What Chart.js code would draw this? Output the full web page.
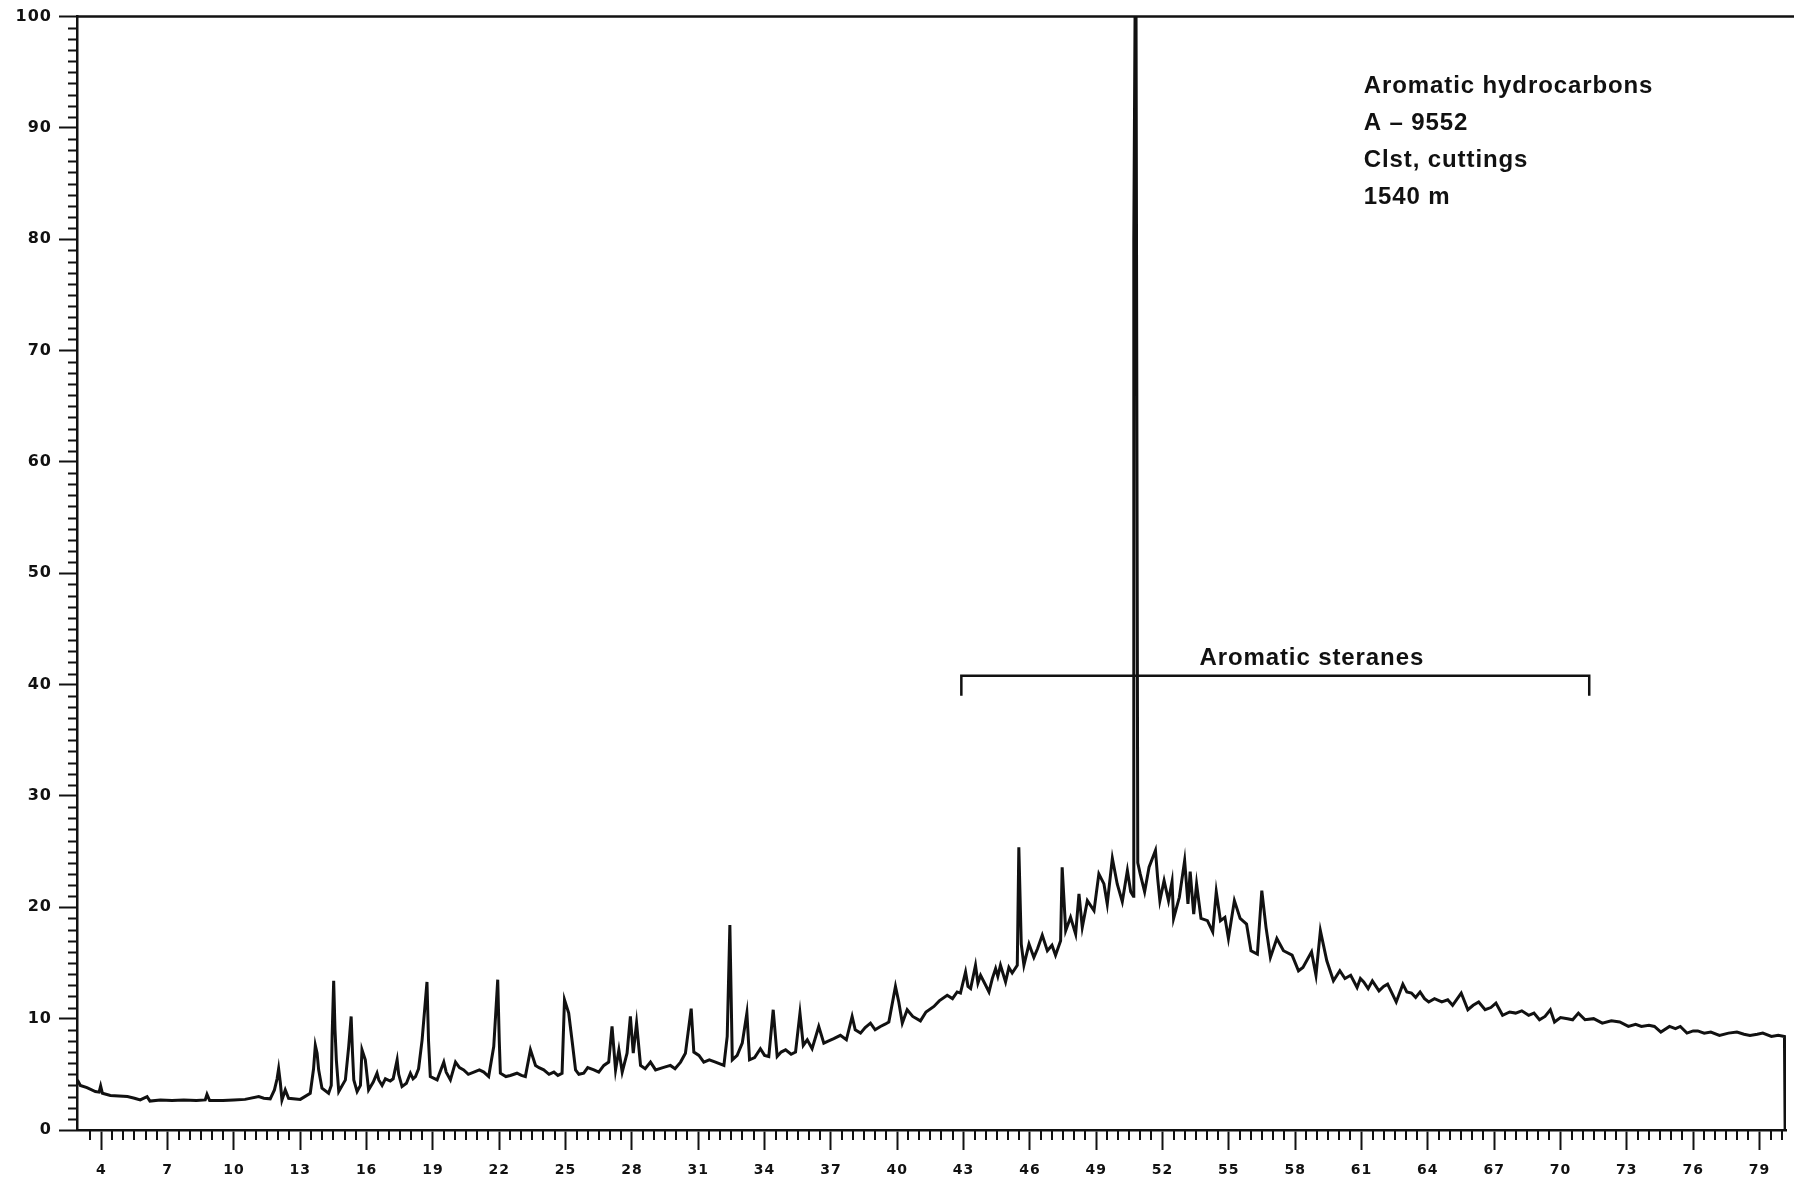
<!DOCTYPE html>
<html>
<head>
<meta charset="utf-8">
<title>Aromatic hydrocarbons A-9552</title>
<script src="https://cdn.jsdelivr.net/npm/chart.js@4/dist/chart.umd.min.js"></script>
<style>
  html, body { margin: 0; padding: 0; background: #fff; }
  #wrap { width: 1803px; height: 1190px; }
</style>
</head>
<body>
<div id="wrap"><canvas id="chrom" width="1803" height="1190"></canvas></div>
<script>
// Retention scale (scan number / time units) of the recorded trace
const retention = [
  2.92, 3.05, 3.35, 3.73, 3.9, 3.97, 4.05, 4.41, 5.18, 5.5, 5.76, 6.07, 6.2, 6.67, 7.2, 7.73, 8.3, 8.7, 8.78, 8.9,
  9.5, 9.99, 10.5, 11.12, 11.35, 11.64,
  11.83, 11.95, 12.02, 12.1, 12.17, 12.32, 12.47, 13.0, 13.45, 13.6, 13.68, 13.76, 13.83, 13.98, 14.28, 14.4, 14.44,
  14.51, 14.57, 14.63, 14.74, 15.04, 15.19, 15.3, 15.36, 15.42, 15.57, 15.72, 15.79, 15.94, 16.09, 16.3, 16.47, 16.55,
  16.7, 16.85, 17.07, 17.2, 17.38, 17.45, 17.6, 17.8, 17.98, 18.1, 18.21, 18.35, 18.51, 18.73, 18.8, 18.88, 19.19,
  19.49, 19.6, 19.79, 20.02, 20.2, 20.39, 20.6, 20.85, 21.1, 21.3, 21.52,
  21.75, 21.93, 22.0, 22.05, 22.3, 22.5, 22.8, 23.0, 23.18, 23.41, 23.64, 23.8, 24.01, 24.25, 24.47, 24.65, 24.84,
  24.95, 25.14, 25.3, 25.45, 25.6, 25.82, 26.0, 26.28, 26.5, 26.73, 26.95, 27.1, 27.26, 27.41, 27.56, 27.78, 27.93,
  28.06, 28.21, 28.39, 28.6, 28.84, 29.07, 29.4, 29.74, 29.95, 30.2, 30.42, 30.68, 30.8, 31.03, 31.25, 31.5, 31.78,
  32.16, 32.31, 32.43, 32.54,
  32.76, 32.99, 33.2, 33.32, 33.55, 33.81, 34.0, 34.19, 34.39, 34.57, 34.75, 34.95, 35.2, 35.4, 35.6, 35.75, 35.93,
  36.15, 36.45, 36.68, 36.9, 37.13, 37.43, 37.7, 37.96, 38.1, 38.34, 38.55, 38.79, 39.0, 39.24, 39.45, 39.62, 39.92,
  40.07, 40.23, 40.45, 40.7, 41.05, 41.3, 41.66, 41.9, 42.26, 42.5, 42.71, 42.86, 43.09, 43.2, 43.32, 43.54, 43.65,
  43.77, 44.0, 44.15, 44.3, 44.45, 44.55, 44.67, 44.9, 45.05, 45.2, 45.43, 45.5, 45.61, 45.73, 45.96, 46.18, 46.35,
  46.56, 46.79, 47.0, 47.16, 47.39, 47.46, 47.62, 47.84, 48.07, 48.22, 48.37, 48.6, 48.9, 49.12, 49.35, 49.5, 49.73,
  49.95, 50.18, 50.41, 50.56, 50.68,
  50.7, 50.79, 50.88,
  50.99, 51.19, 51.39, 51.68, 51.78, 51.88, 52.07, 52.27, 52.43, 52.5, 52.76, 53.0, 53.15, 53.25, 53.41, 53.54, 53.74,
  54.03, 54.27, 54.43, 54.62, 54.82, 54.98, 55.25, 55.51, 55.8, 56.0, 56.29, 56.49, 56.68, 56.88, 57.17, 57.47, 57.86,
  58.15, 58.35, 58.74, 58.94, 59.14, 59.43, 59.73, 60.02, 60.25, 60.51, 60.8, 60.95, 61.1, 61.3, 61.49, 61.79, 62.0,
  62.18, 62.4, 62.57, 62.87, 63.05, 63.26, 63.45, 63.65, 63.85, 64.04, 64.3, 64.63, 64.9, 65.12, 65.51, 65.81, 66.05,
  66.3, 66.59, 66.85, 67.08, 67.38, 67.7, 67.97, 68.25, 68.56, 68.8, 69.05, 69.3, 69.54, 69.73, 70.0, 70.32, 70.55,
  70.81, 71.11, 71.5, 71.89, 72.3, 72.68, 73.07, 73.4, 73.66, 74.0, 74.25, 74.54, 74.93, 75.2, 75.42, 75.72, 76.0,
  76.21, 76.5, 76.8, 77.19, 77.6, 77.98, 78.3, 78.57, 78.9, 79.15, 79.54, 79.85, 80.13, 80.16
];

// Detector response, % of full scale
const response = [
  4.5, 4.0, 3.8, 3.45, 3.4, 3.95, 3.3, 3.1, 3.0, 2.85, 2.7, 3.0, 2.6, 2.7, 2.65, 2.7, 2.65, 2.7, 3.2, 2.65,
  2.65, 2.7, 2.75, 3.0, 2.85, 2.8,
  3.6, 4.6, 5.5, 4.2, 2.7, 3.6, 2.85, 2.75, 3.3, 5.5, 7.6, 6.9, 5.4, 3.75, 3.3, 4.0, 8.5,
  13.4, 9.0, 6.3, 3.45, 4.5, 7.5, 10.2, 7.0, 4.5, 3.45, 4.0, 7.2, 6.3, 3.6, 4.3, 5.1, 4.5,
  4.0, 4.6, 4.4, 4.6, 6.3, 5.0, 3.9, 4.2, 5.1, 4.6, 4.8, 5.5, 8.1, 13.3, 8.0, 4.8, 4.5,
  6.1, 5.2, 4.5, 6.1, 5.6, 5.4, 5.0, 5.2, 5.4, 5.2, 4.8,
  7.5, 13.5, 8.0, 5.1, 4.8, 4.9, 5.1, 4.9, 4.8, 7.2, 5.8, 5.6, 5.4, 5.0, 5.2, 4.9, 5.1,
  11.7, 10.5, 7.9, 5.4, 5.0, 5.1, 5.6, 5.4, 5.2, 5.8, 6.1, 9.3, 5.4, 7.2, 5.2, 6.9, 10.2,
  6.9, 9.6, 5.8, 5.5, 6.1, 5.4, 5.6, 5.8, 5.5, 6.1, 6.9, 10.9, 7.0, 6.7, 6.1, 6.3, 6.1,
  5.8, 8.4, 18.4, 6.3,
  6.7, 7.8, 10.5, 6.3, 6.5, 7.3, 6.7, 6.6, 10.8, 6.6, 7.0, 7.2, 6.8, 7.0, 10.5, 7.6, 8.1,
  7.3, 9.3, 7.8, 8.0, 8.2, 8.5, 8.1, 10.2, 9.0, 8.7, 9.2, 9.6, 9.0, 9.3, 9.5, 9.7, 12.9,
  11.5, 9.6, 10.8, 10.2, 9.8, 10.6, 11.1, 11.6, 12.1, 11.8, 12.4, 12.3, 14.2, 12.9, 12.7, 14.8, 13.2,
  13.9, 13.0, 12.4, 13.6, 14.5, 13.8, 14.8, 13.3, 14.6, 14.1, 14.8, 25.4, 16.7, 14.8, 16.7, 15.5, 16.3,
  17.5, 16.1, 16.6, 15.7, 17.0, 23.6, 17.9, 19.1, 17.6, 21.2, 18.2, 20.6, 19.7, 23.0, 22.1, 20.3, 24.4,
  22.1, 20.5, 23.3, 21.4, 21.0,
  80.0, 112.0, 24.0,
  23.0, 21.4, 23.6, 25.1, 22.6, 20.6, 22.4, 20.6, 22.3, 19.0, 20.9, 24.2, 20.3, 23.2, 19.4, 22.1, 19.0,
  18.8, 17.8, 21.4, 18.8, 19.1, 17.2, 20.6, 19.0, 18.5, 16.1, 15.8, 21.5, 18.2, 15.5, 17.2, 16.1, 15.7,
  14.3, 14.6, 16.0, 13.9, 17.9, 15.2, 13.4, 14.3, 13.6, 13.9, 12.8, 13.6, 13.3, 12.7, 13.4, 12.5, 12.9,
  13.1, 12.2, 11.5, 13.1, 12.4, 12.3, 11.9, 12.4, 11.8, 11.5, 11.8, 11.5, 11.7, 11.2, 12.3, 10.8, 11.2,
  11.5, 10.8, 11.0, 11.4, 10.3, 10.6, 10.5, 10.7, 10.3, 10.5, 9.9, 10.2, 10.8, 9.7, 10.1, 10.0, 9.9,
  10.5, 9.9, 10.0, 9.6, 9.8, 9.7, 9.3, 9.5, 9.3, 9.4, 9.3, 8.8, 9.3, 9.1, 9.3, 8.7, 8.9,
  8.9, 8.7, 8.8, 8.5, 8.7, 8.8, 8.6, 8.5, 8.6, 8.7, 8.4, 8.5, 8.4, 0
];

// Labelled tick positions
const xLabelTicks = [4, 7, 10, 13, 16, 19, 22, 25, 28, 31, 34, 37, 40, 43, 46, 49, 52, 55, 58, 61, 64, 67, 70, 73, 76, 79];
const yLabelTicks = [0, 10, 20, 30, 40, 50, 60, 70, 80, 90, 100];

// Sample description and marked compound group
const sampleInfo = ['Aromatic hydrocarbons', 'A \u2013 9552', 'Clst, cuttings', '1540 m'];
const groupLabel = 'Aromatic steranes';
const groupRange = [42.9, 71.3];

const INK = '#111';
const trace = retention.map((t, i) => ({ x: t, y: response[i] }));

// Minor ticks, top frame line, sample text and the sterane bracket
const decorations = {
  id: 'decorations',
  beforeDraw(chart) {
    chart.ctx.letterSpacing = '1px';
  },
  afterDraw(chart) {
    const { ctx, chartArea: area, scales: { x, y } } = chart;
    ctx.save();
    ctx.strokeStyle = INK;
    ctx.lineWidth = 2;
    ctx.beginPath();
    for (let v = 1; v < 100; v++) {
      if (v % 10 === 0) continue;
      const py = Math.round(y.getPixelForValue(v)) + 0.5;
      ctx.moveTo(area.left, py);
      ctx.lineTo(area.left - 9, py);
    }
    for (let k = 7; k <= 160; k++) {
      const v = k / 2;
      if (xLabelTicks.includes(v)) continue;
      const px = Math.round(x.getPixelForValue(v));
      ctx.moveTo(px, area.bottom);
      ctx.lineTo(px, area.bottom + 10);
    }
    ctx.stroke();

    // top frame
    ctx.lineWidth = 2.5;
    ctx.beginPath();
    ctx.moveTo(area.left, area.top);
    ctx.lineTo(area.right + 8, area.top);
    ctx.stroke();

    // bracket over the aromatic steranes
    const bl = x.getPixelForValue(groupRange[0]);
    const br = x.getPixelForValue(groupRange[1]);
    const by = y.getPixelForValue(40.8);
    const bd = y.getPixelForValue(39.0);
    ctx.beginPath();
    ctx.moveTo(bl, bd);
    ctx.lineTo(bl, by);
    ctx.lineTo(br, by);
    ctx.lineTo(br, bd);
    ctx.stroke();

    ctx.fillStyle = INK;
    ctx.textBaseline = 'middle';
    ctx.letterSpacing = '0.9px';
    ctx.font = 'bold 24px "Liberation Sans", Arial, sans-serif';
    ctx.textAlign = 'center';
    ctx.fillText(groupLabel, x.getPixelForValue(58.75), y.getPixelForValue(42.35));

    ctx.textAlign = 'left';
    sampleInfo.forEach((line, i) => {
      ctx.fillText(line, x.getPixelForValue(61.1), y.getPixelForValue(93.72 - i * 3.32));
    });
    ctx.restore();
    ctx.letterSpacing = '0px';
  }
};

new Chart(document.getElementById('chrom'), {
  type: 'line',
  data: {
    datasets: [{
      data: trace,
      borderColor: INK,
      borderWidth: 3,
      pointRadius: 0,
      tension: 0,
      fill: false
    }]
  },
  options: {
    responsive: false,
    animation: false,
    devicePixelRatio: 1,
    layout: { padding: { top: 14, right: 17, left: 0, bottom: 0 } },
    plugins: { legend: { display: false }, tooltip: { enabled: false } },
    scales: {
      x: {
        type: 'linear',
        min: 2.9,
        max: 80.2,
        afterFit(s) { s.height = 60; },
        afterBuildTicks(s) { s.ticks = xLabelTicks.map(v => ({ value: v })); },
        grid: { drawOnChartArea: false, tickLength: 20, tickWidth: 2, tickColor: INK },
        border: { color: INK, width: 2.5 },
        ticks: {
          color: INK,
          autoSkip: false,
          maxRotation: 0,
          padding: 12,
          font: { family: 'DejaVu Sans', weight: 'bold', size: 14 }
        }
      },
      y: {
        type: 'linear',
        min: 0,
        max: 100,
        afterFit(s) { s.width = 77; },
        afterBuildTicks(s) { s.ticks = yLabelTicks.map(v => ({ value: v })); },
        grid: { drawOnChartArea: false, tickLength: 18, tickWidth: 2, tickColor: INK },
        border: { color: INK, width: 2.5 },
        ticks: {
          color: INK,
          padding: 7,
          font: { family: 'DejaVu Sans', weight: 'bold', size: 16 }
        }
      }
    }
  },
  plugins: [decorations]
});
</script>
</body>
</html>
